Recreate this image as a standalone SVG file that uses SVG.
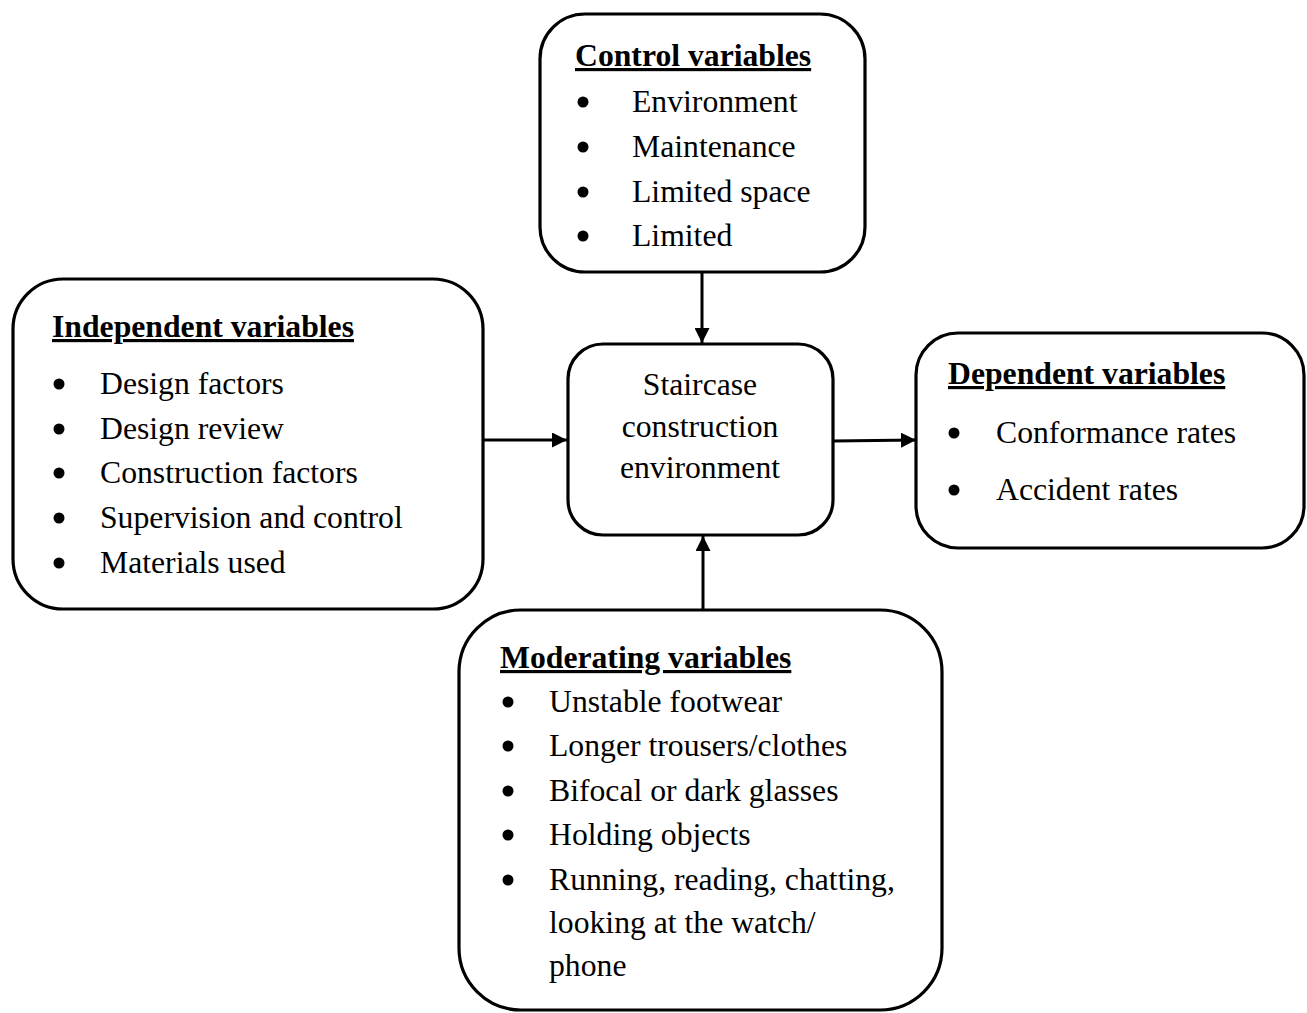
<svg xmlns="http://www.w3.org/2000/svg" width="1307" height="1013" viewBox="0 0 1307 1013">
<style>
.box{fill:#fff;stroke:#000;stroke-width:3.2}
text{font-family:"Liberation Serif","Times New Roman",serif;fill:#000;font-size:31.7px}
.h{font-weight:bold;text-decoration:underline}
.c{text-anchor:middle}
.conn{stroke:#000;stroke-width:3;fill:none}
circle{fill:#000}
</style>
<defs>
<marker id="ah" viewBox="0 0 10 10" refX="10" refY="5" markerWidth="5" markerHeight="5" markerUnits="strokeWidth" orient="auto">
<path d="M0,0 L10,5 L0,10 z" fill="#000"/>
</marker>
</defs>
<rect width="1307" height="1013" fill="#fff"/>
<g id="connectors">
<line class="conn" x1="702" y1="272" x2="702" y2="343" marker-end="url(#ah)"/>
<line class="conn" x1="480" y1="440" x2="567" y2="440" marker-end="url(#ah)"/>
<line class="conn" x1="833" y1="441" x2="916" y2="440" marker-end="url(#ah)"/>
<line class="conn" x1="703" y1="609" x2="703" y2="536" marker-end="url(#ah)"/>
</g>
<g id="control">
<rect class="box" x="540" y="14" width="325" height="258" rx="45"/>
<text class="h" x="575" y="66" font-size="32">Control variables</text>
<circle cx="583" cy="102" r="5.5"/><text x="632" y="112">Environment</text>
<circle cx="583" cy="147" r="5.5"/><text x="632" y="157">Maintenance</text>
<circle cx="583" cy="192" r="5.5"/><text x="632" y="202">Limited space</text>
<circle cx="583" cy="236" r="5.5"/><text x="632" y="246">Limited</text>
</g>
<g id="independent">
<rect class="box" x="13" y="279" width="470" height="330" rx="50"/>
<text class="h" x="52" y="337" font-size="32">Independent variables</text>
<circle cx="59" cy="384" r="5.5"/><text x="100" y="394">Design factors</text>
<circle cx="59" cy="429" r="5.5"/><text x="100" y="439">Design review</text>
<circle cx="59" cy="473" r="5.5"/><text x="100" y="483">Construction factors</text>
<circle cx="59" cy="518" r="5.5"/><text x="100" y="528">Supervision and control</text>
<circle cx="59" cy="563" r="5.5"/><text x="100" y="573">Materials used</text>
</g>
<g id="center">
<rect class="box" x="568" y="344" width="265" height="191" rx="35"/>
<text class="c" x="700" y="395">Staircase</text>
<text class="c" x="700" y="437">construction</text>
<text class="c" x="700" y="478">environment</text>
</g>
<g id="dependent">
<rect class="box" x="916" y="333" width="388" height="215" rx="42"/>
<text class="h" x="948" y="384" font-size="32">Dependent variables</text>
<circle cx="954" cy="433" r="5.5"/><text x="996" y="443">Conformance rates</text>
<circle cx="954" cy="490" r="5.5"/><text x="996" y="500">Accident rates</text>
</g>
<g id="moderating">
<rect class="box" x="459" y="610" width="483" height="400" rx="62"/>
<text class="h" x="500" y="668" font-size="29.5">Moderating variables</text>
<circle cx="508" cy="702" r="5.5"/><text x="549" y="712">Unstable footwear</text>
<circle cx="508" cy="746" r="5.5"/><text x="549" y="756">Longer trousers/clothes</text>
<circle cx="508" cy="791" r="5.5"/><text x="549" y="801">Bifocal or dark glasses</text>
<circle cx="508" cy="835" r="5.5"/><text x="549" y="845">Holding objects</text>
<circle cx="508" cy="880" r="5.5"/><text x="549" y="890">Running, reading, chatting,</text>
<text x="549" y="933">looking at the watch/</text>
<text x="549" y="976">phone</text>
</g>
</svg>
